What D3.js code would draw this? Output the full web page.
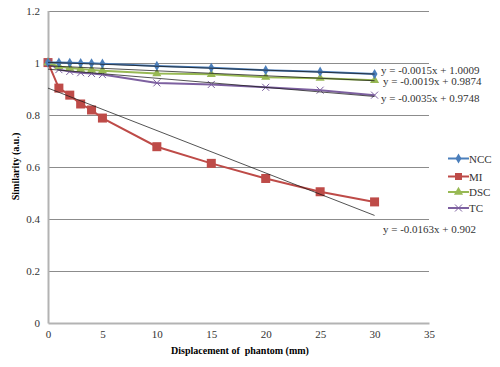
<!DOCTYPE html>
<html lang="en">
<head>
    <meta charset="utf-8">
    <title>Similarity vs displacement</title>
    <script src="https://cdn.jsdelivr.net/npm/d3@7"></script>
    <style type="text/css">
        body { margin: 0; background: #fff; }
        text { font-family: "Liberation Serif", "DejaVu Serif", serif; }
    </style>
</head>
<body>
<script type="text/javascript">

    // data
    var displacement = [0, 1, 2, 3, 4, 5, 10, 15, 20, 25, 30];
    var ncc = [1.0, 1.0, 0.999, 0.998, 0.997, 0.996, 0.987, 0.980, 0.971, 0.965, 0.956];
    var mi  = [1.0, 0.902, 0.875, 0.841, 0.818, 0.787, 0.677, 0.613, 0.555, 0.504, 0.465];
    var dsc = [1.0, 0.985, 0.979, 0.975, 0.972, 0.969, 0.958, 0.955, 0.944, 0.940, 0.932];
    var tc  = [1.0, 0.973, 0.966, 0.961, 0.958, 0.954, 0.922, 0.916, 0.905, 0.894, 0.875];

    var seriesNames = ["NCC", "MI", "DSC", "TC"];
    var seriesColors = ["#4A7EBB", "#BE4B48", "#98B954", "#7D60A0"];
    var seriesShapes = ["diamond", "square", "triangle", "cross"];

    // trend lines: slope, intercept, label
    var trendSlope = [-0.0015, -0.0163, -0.0019, -0.0035];
    var trendIntercept = [1.0009, 0.902, 0.9874, 0.9748];
    var trendLabel = ["y = -0.0015x + 1.0009", "y = -0.0163x + 0.902",
                      "y = -0.0019x + 0.9874", "y = -0.0035x + 0.9748"];

    var xTicks = [0, 5, 10, 15, 20, 25, 30, 35];
    var yTicks = [0, 0.2, 0.4, 0.6, 0.8, 1, 1.2];

    var w = 500;
    var h = 367;

    var allValues = [ncc, mi, dsc, tc];

    var xScale = d3.scaleLinear().domain([0, 35]).range([48, 429]);
    var yScale = d3.scaleLinear().domain([0, 1.2]).range([323, 10.5]);

    var svg = d3.select("body")
        .append("svg")
        .attr("width", w)
        .attr("height", h);

    // gridlines
    svg.append("g")
        .selectAll("line")
        .data(yTicks.filter(function(d) { return d > 0; }))
        .enter()
        .append("line")
        .attr("x1", xScale(0))
        .attr("x2", xScale(35))
        .attr("y1", function(d) { return Math.round(yScale(d)) + 0.5; })
        .attr("y2", function(d) { return Math.round(yScale(d)) + 0.5; })
        .attr("stroke", "#8c8c8c")
        .attr("stroke-width", 1);

    // axes
    var xAxis = d3.axisBottom(xScale).tickValues(xTicks).tickSize(0).tickPadding(7)
        .tickFormat(d3.format("d"));
    var yAxis = d3.axisLeft(yScale).tickValues(yTicks).tickSize(0).tickPadding(8)
        .tickFormat(function(d) { return d3.format("")(d); });

    var gx = svg.append("g")
        .attr("transform", "translate(0," + yScale(0) + ")")
        .call(xAxis);
    var gy = svg.append("g")
        .attr("transform", "translate(" + xScale(0) + ",0)")
        .call(yAxis);

    [gx, gy].forEach(function(g) {
        g.select(".domain").attr("stroke", "#b3b3b3").attr("stroke-width", 2);
        g.selectAll("text")
            .attr("fill", "#333")
            .style("font-size", "11px")
            .style("font-family", "Liberation Serif, serif");
    });

    // axis titles
    svg.append("text")
        .attr("x", 240)
        .attr("y", 354)
        .attr("text-anchor", "middle")
        .style("font-size", "10px")
        .style("font-weight", "bold")
        .style("white-space", "pre")
        .text("Displacement of  phantom (mm)");

    svg.append("text")
        .attr("transform", "translate(19,166.5) rotate(-90)")
        .attr("text-anchor", "middle")
        .style("font-size", "10px")
        .style("font-weight", "bold")
        .text("Similarity (a.u.)");

    // series lines
    var line = d3.line()
        .x(function(d, i) { return xScale(displacement[i]); })
        .y(function(d) { return yScale(d); });

    function drawMarker(g, shape, color, cx, cy) {
        if (shape === "diamond") {
            g.append("path")
                .attr("d", d3.symbol().type(d3.symbolDiamond).size(30)())
                .attr("transform", "translate(" + cx + "," + cy + ")")
                .attr("fill", color);
        } else if (shape === "square") {
            g.append("rect")
                .attr("x", cx - 4.5).attr("y", cy - 4.5)
                .attr("width", 9).attr("height", 9)
                .attr("fill", color);
        } else if (shape === "triangle") {
            g.append("path")
                .attr("d", d3.symbol().type(d3.symbolTriangle).size(36)())
                .attr("transform", "translate(" + cx + "," + cy + ")")
                .attr("fill", color);
        } else {
            g.append("path")
                .attr("d", "M-3.5,-3.5L3.5,3.5M-3.5,3.5L3.5,-3.5")
                .attr("transform", "translate(" + cx + "," + cy + ")")
                .attr("stroke", color)
                .attr("stroke-width", 1)
                .attr("fill", "none");
        }
    }

    var drawOrder = [1, 3, 2, 0];
    drawOrder.forEach(function(s) {
        var g = svg.append("g");
        g.append("path")
            .datum(allValues[s])
            .attr("d", line)
            .attr("fill", "none")
            .attr("stroke", seriesColors[s])
            .attr("stroke-width", 2);
        allValues[s].forEach(function(v, i) {
            drawMarker(g, seriesShapes[s], seriesColors[s], xScale(displacement[i]), yScale(v));
        });
    });

    // trend lines
    var trendG = svg.append("g");
    trendSlope.forEach(function(m, s) {
        trendG.append("line")
            .attr("x1", xScale(0))
            .attr("y1", yScale(trendIntercept[s]))
            .attr("x2", xScale(30))
            .attr("y2", yScale(trendIntercept[s] + m * 30))
            .attr("stroke", "#1a1a1a")
            .attr("stroke-width", 0.75);
    });

    // trend labels
    var labelY = [73.5, 232.5, 85, 102];
    trendLabel.forEach(function(t, s) {
        svg.append("text")
            .attr("x", s === 2 || s === 1 ? 383 : 381)
            .attr("y", labelY[s])
            .style("font-size", "11px")
            .attr("fill", "#333")
            .text(t);
    });

    // legend
    var legend = svg.append("g");
    var legendY = [158.5, 176.5, 192, 208];
    seriesNames.forEach(function(name, s) {
        var ly = legendY[s];
        legend.append("line")
            .attr("x1", 448).attr("x2", 469)
            .attr("y1", ly).attr("y2", ly)
            .attr("stroke", seriesColors[s])
            .attr("stroke-width", 2);
        var mg = legend.append("g");
        if (seriesShapes[s] === "square") {
            mg.append("rect").attr("x", 455).attr("y", ly - 3.5)
                .attr("width", 7).attr("height", 7).attr("fill", seriesColors[s]);
        } else {
            drawMarker(mg, seriesShapes[s], seriesColors[s], 458.5, ly);
        }
        legend.append("text")
            .attr("x", 469)
            .attr("y", ly + 4)
            .style("font-size", "11px")
            .attr("fill", "#333")
            .text(name);
    });

</script>
</body>
</html>
